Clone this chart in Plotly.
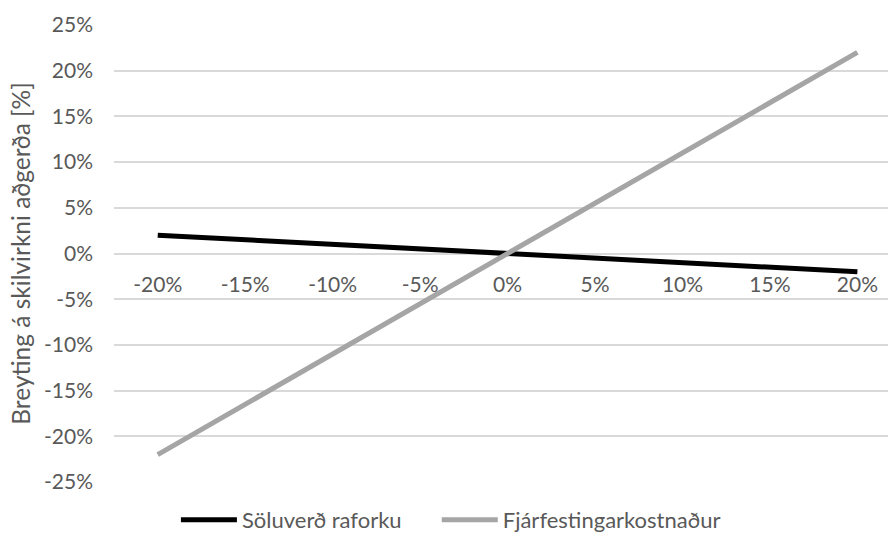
import plotly.graph_objects as go

# Sensitivity of efficiency to changes in input parameters
changes = ["-20%", "-15%", "-10%", "-5%", "0%", "5%", "10%", "15%", "20%"]
soluverd = [2.0, 1.5, 1.0, 0.5, 0.0, -0.5, -1.0, -1.5, -2.0]
fjarfesting = [-22.0, -16.5, -11.0, -5.5, 0.0, 5.5, 11.0, 16.5, 22.0]
y_ticks = [-25, -20, -15, -10, -5, 0, 5, 10, 15, 20, 25]
y_labels = [f"{v}%" for v in y_ticks]

FONT = "Lato"
TEXT = "#595959"
GRID = "#D9D9D9"

fig = go.Figure()
fig.add_trace(go.Scatter(
    x=changes, y=soluverd, mode="lines", name="Söluverð raforku",
    line=dict(color="#000000", width=5), legend="legend",
))
fig.add_trace(go.Scatter(
    x=changes, y=fjarfesting, mode="lines", name="Fjárfestingarkostnaður",
    line=dict(color="#A5A5A5", width=5), legend="legend2",
))

legend_style = dict(
    orientation="h", xanchor="left",
    y=0.046, yanchor="middle", yref="container",
    itemwidth=56,
    font=dict(family=FONT, size=22, color=TEXT),
    bgcolor="rgba(0,0,0,0)",
)

fig.update_layout(
    width=888, height=545,
    margin=dict(l=114, r=0, t=25, b=63, autoexpand=False),
    paper_bgcolor="white", plot_bgcolor="white",
    font=dict(family=FONT, size=21, color=TEXT),
    showlegend=True,
    legend=dict(x=0.080, **legend_style),
    legend2=dict(x=0.417, **legend_style),
    xaxis=dict(
        type="category", range=[-0.5, 8.35],
        anchor="free", position=0.5, automargin=False,
        showgrid=False, zeroline=False, showline=False,
        ticks="", ticklabelstandoff=16,
        tickfont=dict(family=FONT, size=21, color=TEXT),
    ),
    yaxis=dict(
        range=[-25, 25], tickmode="array", tickvals=y_ticks, ticktext=y_labels,
        showgrid=True, gridcolor=GRID, gridwidth=1.5, automargin=False,
        zeroline=False, showline=False, ticks="",
        ticklabelstandoff=20,
        tickfont=dict(family=FONT, size=21, color=TEXT),
        title=dict(text="Breyting á skilvirkni aðgerða [%]",
                   font=dict(family=FONT, size=24.5, color=TEXT), standoff=6),
    ),
)

fig.write_html("out.html")
